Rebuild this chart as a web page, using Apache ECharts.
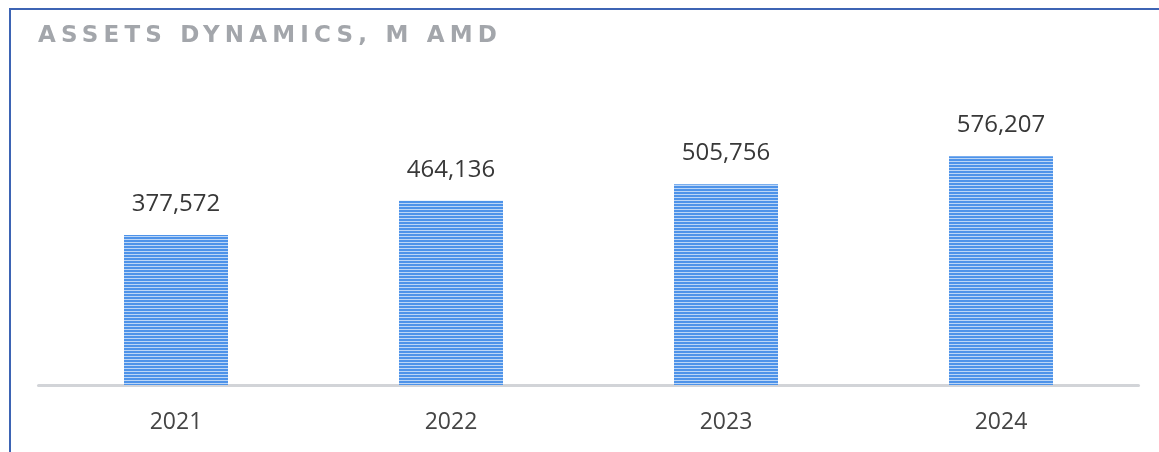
<!DOCTYPE html>
<html>
<head>
<meta charset="utf-8">
<script src="https://cdn.jsdelivr.net/npm/echarts@6/dist/echarts.min.js"></script>
<style>
html, body { margin: 0; padding: 0; background: #fff; }
#main { width: 1159px; height: 452px; }
#frame { position: absolute; left: 9px; top: 8px; right: -5px; bottom: -5px;
  border-top: 2px solid #3d64b4; border-left: 2px solid #3d64b4; pointer-events: none; }
#title { position: absolute; left: 38px; top: 21px; font-family: 'DejaVu Sans'; font-weight: bold;
  font-size: 23px; letter-spacing: 5.2px; color: #a3a6ab; white-space: nowrap; }
</style>
</head>
<body>
<div id="main"></div>
<div id="frame"></div>
<div id="title">ASSETS DYNAMICS, M AMD</div>
<script>
// 资产动态
var years = ['2021', '2022', '2023', '2024'];
var assets = [377572, 464136, 505756, 576207];

// 条纹填充
var stripe = document.createElement('canvas');
stripe.width = 4;
stripe.height = 3;
var ctx = stripe.getContext('2d');
ctx.fillStyle = '#4e93e9';
ctx.fillRect(0, 0, 4, 3);
ctx.fillStyle = '#bcd6f6';
ctx.fillRect(0, 2, 4, 1);

var myChart = echarts.init(document.getElementById('main'));
var option = {
	backgroundColor : '#ffffff',
	grid : {
		left : 38.5,
		right : 20.5,
		top : 107,
		bottom : 67
	},
	xAxis : {
		type : 'category',
		data : years,
		axisLine : {
			lineStyle : { color : '#d2d4d8', width : 3 }
		},
		axisTick : { show : false },
		axisLabel : {
			margin : 26,
			fontSize : 23,
			fontFamily : 'Open Sans',
			color : '#454545'
		}
	},
	yAxis : {
		type : 'value',
		min : 0,
		max : 700000,
		show : false,
		splitLine : { show : false }
	},
	series : [ {
		type : 'bar',
		data : assets,
		barWidth : 104,
		itemStyle : {
			color : { image : stripe, repeat : 'repeat' }
		},
		label : {
			show : true,
			position : 'top',
			distance : 19,
			fontSize : 24,
			fontFamily : 'Open Sans',
			color : '#383838',
			formatter : function(p) {
				return p.value.toLocaleString('en-US');
			}
		}
	} ]
};
myChart.setOption(option);
</script>
</body>
</html>
